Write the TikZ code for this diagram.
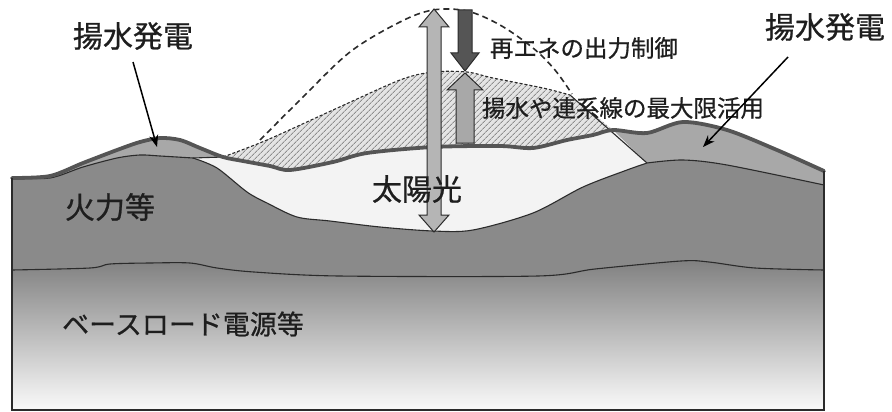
\documentclass[tikz,border=0pt]{standalone}
\usepackage{fontspec}
\setmainfont[FakeBold=0.7]{Noto Sans CJK JP}
\usetikzlibrary{patterns.meta,arrows.meta}
\definecolor{thermal}{HTML}{8A8A8A}
\definecolor{pump}{HTML}{A8A8A8}
\definecolor{lightreg}{HTML}{F3F3F3}
\definecolor{basetop}{HTML}{808080}
\definecolor{basebot}{HTML}{FAFAFA}
\definecolor{thickc}{HTML}{555555}
\definecolor{thinc}{HTML}{2B2B2B}
\definecolor{hatchbg}{HTML}{E4E4E4}
\definecolor{hatchln}{HTML}{8E8E8E}
\definecolor{txt}{HTML}{1E1E1E}
\tikzset{
  thickline/.style={draw=thickc,line width=3.8pt,line join=round,line cap=round},
  thinline/.style={draw=thinc,line width=1.1pt,line join=round},
  dashline/.style={draw=thinc,line width=1.6pt,dash pattern=on 6pt off 4pt},
  hatchedge/.style={draw=thinc,line width=1.1pt,dash pattern=on 3pt off 2pt},
  bigarrow/.style={draw=thinc,line width=1pt,line join=miter},
  labelarrow/.style={draw=black,line width=1.5pt,-{Stealth[length=12pt,width=9pt]}},
  lbl/.style={inner sep=0pt,text=txt,anchor=center},
  big/.style={lbl,font=\fontsize{30}{34}\selectfont},
  mid/.style={lbl,font=\fontsize{23.5}{28}\selectfont},
  base/.style={lbl,font=\fontsize{27}{30}\selectfont}
}
\begin{document}
\begin{tikzpicture}[x=1pt,y=-1pt]
\useasboundingbox (0,0) rectangle (892,412);
% thermal region
\fill[thermal] plot[smooth,tension=0.5] coordinates {(12,178) (50,178) (83,167) (117,158) (140,155) (160,156) (193,158)}
  -- plot[smooth,tension=0.5] coordinates {(193,158) (217,168) (247,192) (267,203) (297,217) (330,221) (380,227) (433,231) (473,230) (533,213) (583,187) (627,170) (647,163)}
  -- plot[smooth,tension=0.5] coordinates {(647,163) (683,160) (727,165) (824,185)}
  -- (824,410) -- (12,410) -- cycle;
% base load region
\shade[top color=basetop,bottom color=basebot] plot[smooth,tension=0.5] coordinates {(12,270) (90,268) (110,264) (150,263) (190,263) (217,268) (254,272) (339,276) (538,276) (595,269) (681,261) (709,262) (755,268) (824,270)}
  -- (824,410) -- (12,410) -- cycle;
% light (solar) region
\fill[lightreg] plot[smooth,tension=0.5] coordinates {(223,157) (243,161) (270,166) (290,170) (333,162) (367,153) (433,147) (500,146) (533,148) (567,140) (593,135) (613,130)}
  -- (647,163)
  -- plot[smooth,tension=0.5] coordinates {(647,163) (627,170) (583,187) (533,213) (473,230) (433,231) (380,227) (330,221) (297,217) (267,203) (247,192) (217,168) (193,158)}
  -- cycle;
% left pumped storage
\fill[pump] plot[smooth,tension=0.5] coordinates {(12,178) (50,176) (83,163) (117,150) (140,142) (160,138) (180,140) (200,148) (223,157)}
  -- (193,158)
  -- plot[smooth,tension=0.5] coordinates {(193,158) (160,156) (140,155) (117,158) (83,167) (50,178) (12,178)} -- cycle;
% right pumped storage
\fill[pump] plot[smooth,tension=0.5] coordinates {(613,130) (647,133) (683,122) (727,130) (777,150) (824,171)}
  -- (824,185)
  -- plot[smooth,tension=0.5] coordinates {(824,185) (727,165) (683,160) (647,163)} -- cycle;
% hatched region
\path[fill=hatchbg,postaction={pattern={Lines[angle=45,distance=4pt,line width=1pt]},pattern color=hatchln}]
  plot[smooth,tension=0.5] coordinates {(223,157) (267,140) (333,110) (400,80) (433,72) (467,72) (493,78) (543,88) (570,95)}
  -- (613,130)
  -- plot[smooth,tension=0.5] coordinates {(613,130) (593,135) (567,140) (533,148) (500,146) (433,147) (367,153) (333,162) (290,170) (270,166) (243,161) (223,157)} -- cycle;
% lines
\draw[thinline] plot[smooth,tension=0.5] coordinates {(12,270) (90,268) (110,264) (150,263) (190,263) (217,268) (254,272) (339,276) (538,276) (595,269) (681,261) (709,262) (755,268) (824,270)};
\draw[thinline] plot[smooth,tension=0.5] coordinates {(12,178) (50,178) (83,167) (117,158) (140,155) (160,156) (193,158)}
  -- plot[smooth,tension=0.5] coordinates {(193,158) (217,168) (247,192) (267,203) (297,217) (330,221) (380,227) (433,231) (473,230) (533,213) (583,187) (627,170) (647,163)}
  -- plot[smooth,tension=0.5] coordinates {(647,163) (683,160) (727,165) (824,185)};
\draw[thinline] (193,158) -- (223,157);
\draw[thinline] (570,95) -- (647,163);
\draw[hatchedge] plot[smooth,tension=0.5] coordinates {(223,157) (267,140) (333,110) (400,80) (433,72) (467,72) (493,78) (543,88) (570,95)};
\draw[thickline] plot[smooth,tension=0.5] coordinates {(12,178) (50,176) (83,163) (117,150) (140,142) (160,138) (180,140) (200,148) (223,157) (243,161) (270,166) (290,170) (333,162) (367,153) (433,147) (500,146) (533,148) (567,140) (593,135) (613,130) (647,133) (683,122) (727,130) (777,150) (824,171)};
\draw[thinc,line width=1.4pt] (12,178) -- (12,410) -- (824,410) -- (824,171);
\draw[dashline] plot[smooth,tension=0.55] coordinates {(260,140) (300,100) (350,52) (400,22) (433,10) (467,11) (500,25) (533,48) (555,70) (572,94)};
% solar double arrow
\filldraw[bigarrow,fill=pump!85!white] (434,9) -- (449,27) -- (441,27) -- (441,215) -- (449,215) -- (434,232) -- (419,215) -- (427,215) -- (427,27) -- (419,27) -- cycle;
% curtailment arrow (down)
\filldraw[bigarrow,fill=thickc] (458,10) -- (472,10) -- (472,53) -- (479,53) -- (465,71) -- (451,53) -- (458,53) -- cycle;
% pumping / interconnection arrow (up)
\filldraw[bigarrow,fill=pump] (465,73) -- (483,90) -- (474,90) -- (474,143) -- (456,143) -- (456,90) -- (447,90) -- cycle;
% labels
\node[big] (pumpL) at (133,36) {揚水発電};
\node[big] (pumpR) at (825,27) {揚水発電};
\node[mid] (curt) at (584,48) {再エネの出力制御};
\node[mid] (maxuse) at (623,108) {揚水や連系線の最大限活用};
\node[big] (solar) at (417,189) {太陽光};
\node[big] (therm) at (110,207) {火力等};
\node[base] (baseload) at (183,324) {ベースロード電源等};
\coordinate (pumpLtip) at (157,147);
\coordinate (pumpRtip) at (703,147);
\draw[labelarrow] (133,62) -- (pumpLtip);
\draw[labelarrow] (788,57) -- (pumpRtip);
\end{tikzpicture}
\end{document}
